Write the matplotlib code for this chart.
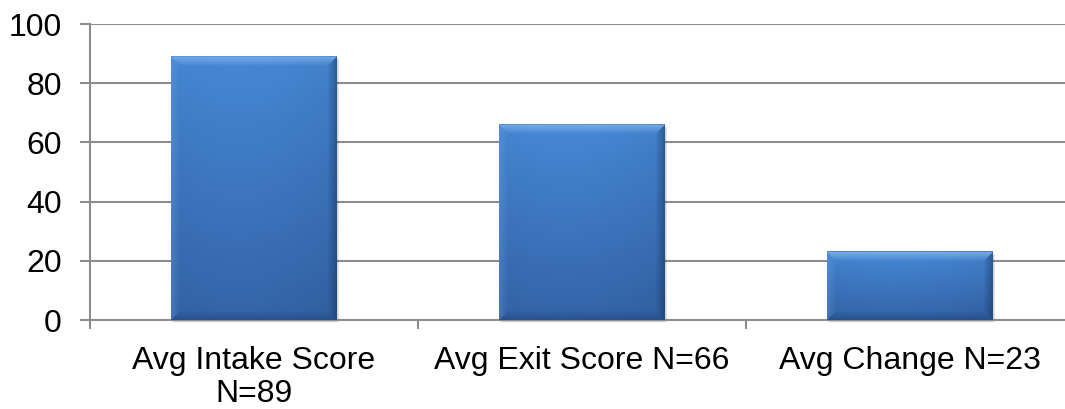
import numpy as np
import matplotlib
matplotlib.use("Agg")
import matplotlib.pyplot as plt
from matplotlib.patches import Polygon, Rectangle

plt.rcParams['font.family'] = ['Liberation Sans', 'DejaVu Sans']

categories = ["Avg Intake Score\nN=89", "Avg Exit Score N=66", "Avg Change N=23"]
values = [89, 66, 23]
y_ticks = [0, 20, 40, 60, 80, 100]

W, H = 1065, 409
fig = plt.figure(figsize=(W / 100, H / 100), dpi=100)
left, right, top, bottom = 90, 1074, 24, 320
ax = fig.add_axes([left / W, 1 - bottom / H, (right - left) / W, (bottom - top) / H])

x = np.arange(len(categories))
bar_w = 0.506
bars = ax.bar(x, values, width=bar_w, color='none', edgecolor='none', zorder=3)

ax.set_xlim(-0.5, len(categories) - 0.5)
ax.set_ylim(0, 100)
ax.set_yticks(y_ticks)
ax.yaxis.grid(True, color='#8c8c8c', linewidth=1.5, zorder=0)
ax.set_axisbelow(True)

# pixel -> data scales for bevel sizing
px_x = len(categories) / (right - left)
px_y = 100 / (bottom - top)

# base gradient colours (top -> bottom) and horizontal shading
top_c = np.array([70, 136, 214]) / 255
bot_c = np.array([52, 100, 168]) / 255
ny, nx = 200, 100
t = np.linspace(0, 1, ny)[:, None, None]
vert = top_c * (1 - t) + bot_c * t
s = np.linspace(0, 1, nx)[None, :, None]
hshade = 1.0 + 0.04 * np.cos(np.pi * (s - 0.4)) - 0.04
grad = np.clip(vert * hshade, 0, 1)

for b in bars:
    x0, w, h = b.get_x(), b.get_width(), b.get_height()
    # soft shadow
    for k, a in [(4, 0.04), (3, 0.06), (2, 0.09)]:
        ax.add_patch(Rectangle((x0 + k * px_x * 0.6, -k * px_y * 0.8), w, h, facecolor='black',
                               alpha=a, edgecolor='none', zorder=2, clip_on=False))
    ax.imshow(grad, extent=[x0, x0 + w, 0, h], aspect='auto', zorder=3,
              interpolation='bilinear')
    x1, y1 = x0 + w, h
    # bevel bands, drawn as thin layered trapezoids fading inward
    steps = 9
    for i in range(steps):
        d0, e0 = i * px_x, i * px_y
        d1, e1 = (i + 1) * px_x, (i + 1) * px_y
        fade = 1 - i / steps
        bands = [
            ([(x0 + d0, y1 - e0), (x1 - d0, y1 - e0), (x1 - d1, y1 - e1), (x0 + d1, y1 - e1)],
             '#a8d4ff', 0.5 * fade),
            ([(x0 + d0, e0), (x0 + d0, y1 - e0), (x0 + d1, y1 - e1), (x0 + d1, e1)],
             '#7ab2f0', 0.25 * fade),
            ([(x1 - d0, e0), (x1 - d0, y1 - e0), (x1 - d1, y1 - e1), (x1 - d1, e1)],
             '#14305a', 0.45 * fade),
            ([(x0 + d0, e0), (x1 - d0, e0), (x1 - d1, e1), (x0 + d1, e1)],
             '#18355f', 0.35 * fade),
        ]
        for pts, col, a in bands:
            ax.add_patch(Polygon(pts, closed=True, facecolor=col, alpha=a,
                                 edgecolor='none', zorder=4))

ax.set_xticks(x)
ax.set_xticklabels(categories, fontsize=23)
ax.set_xticks(np.arange(-0.5, len(categories), 1), minor=True)
ax.tick_params(axis='x', which='major', length=0, pad=19)
ax.tick_params(axis='x', which='minor', length=6.5, width=1.5, color='#8c8c8c')
ax.tick_params(axis='y', length=7.2, width=1.5, color='#8c8c8c', labelsize=23, pad=13)
for lbl in ax.get_xticklabels():
    lbl.set_linespacing(1.12)

for sp in ['top', 'right']:
    ax.spines[sp].set_visible(False)
for sp in ['left', 'bottom']:
    ax.spines[sp].set_color('#8c8c8c')
    ax.spines[sp].set_linewidth(1.5)

fig.savefig("out.png", dpi=100)
